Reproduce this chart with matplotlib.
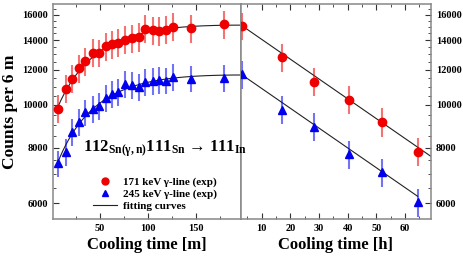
import matplotlib as mpl
mpl.use("Agg")
import matplotlib.pyplot as plt
import numpy as np
from matplotlib.ticker import FixedLocator, MultipleLocator, NullFormatter

plt.rcParams["font.family"] = "Liberation Serif"
plt.rcParams["font.weight"] = "bold"
plt.rcParams["axes.labelweight"] = "bold"
plt.rcParams["mathtext.fontset"] = "custom"
plt.rcParams["mathtext.rm"] = "Liberation Serif:bold"
plt.rcParams["mathtext.it"] = "Liberation Serif:bold"
plt.rcParams["mathtext.bf"] = "Liberation Serif:bold"

# Measured points, cooling time in minutes
t_min = [5.9, 14.3, 20.8, 27.8, 34.7, 42.4, 48.6, 55.9, 62.8, 69.1,
         76.4, 83.6, 90.3, 97.2, 104.9, 111.8, 118.8, 126.4, 144.5, 179.2]
red_min = [9810, 10880, 11470, 12090, 12540, 13120, 13100, 13560, 13720, 13830,
           14040, 14160, 14240, 14870, 14750, 14690, 14780, 15030, 14890, 15210]
red_min_err = [720, 790, 830, 880, 910, 950, 950, 990, 1000, 1000,
               1020, 1030, 1040, 1080, 1070, 1070, 1080, 1090, 1080, 1100]
blue_min = [7390, 7840, 8690, 9150, 9620, 9790, 9950, 10350, 10590, 10700,
            11160, 11080, 10990, 11270, 11310, 11370, 11350, 11550, 11460, 11510]
blue_min_err = [500, 540, 600, 630, 660, 680, 690, 720, 730, 740,
                770, 770, 760, 780, 780, 790, 790, 800, 790, 800]

# Measured points, cooling time in hours
t_h = [3.1, 17.0, 28.2, 40.5, 51.8, 64.4]
red_h = [15070, 12820, 11280, 10280, 9150, 7840]
red_h_err = [1090, 930, 820, 750, 670, 570]
blue_h = [11730, 9760, 8940, 7740, 7050, 6030]
blue_h_err = [850, 710, 650, 560, 510, 440]

# Fit parameters (half-lives of 111Sn and 111In)
T_sn = 35.3          # min
T_in = 67.3 * 60     # min
red_fit = (15800, 0.42)
blue_fit = (12200, 0.44)
red_h0 = 15100
blue_h0 = 11700


def growth(t, c0, b):
    return c0 * (1 - b * np.exp(-np.log(2) / T_sn * t)) * np.exp(-np.log(2) / T_in * t)


def decay(h, c0):
    return c0 * np.exp(-np.log(2) / (T_in / 60) * (h - 3.1))


fig = plt.figure(figsize=(4.63, 2.56), dpi=100)
ax1 = fig.add_axes([0.1145, 0.1445, 0.406, 0.840])
ax2 = fig.add_axes([0.5205, 0.1445, 0.410, 0.840])

red = "#ee0000"
blue = "#0000ee"
ylim = (5530, 16900)


def draw_points(ax, x, y, err, color, marker):
    ax.errorbar(x, y, yerr=err, fmt="none", ecolor=color, elinewidth=1.5, alpha=0.55, zorder=2)
    ax.plot(x, y, marker, color=color, markersize=6, linestyle="none", zorder=3)


# left panel
tt = np.linspace(t_min[0], 197, 300)
ax1.plot(tt, growth(tt, *red_fit), color="#222222", lw=0.8, zorder=1)
ax1.plot(tt, growth(tt, *blue_fit), color="#222222", lw=0.8, zorder=1)
draw_points(ax1, t_min, red_min, red_min_err, red, "o")
draw_points(ax1, t_min, blue_min, blue_min_err, blue, "^")

# right panel
hr = np.linspace(2.8, 69, 200)
hb = np.linspace(2.8, 64.4, 200)
ax2.plot(hr, decay(hr, red_h0), color="#222222", lw=0.8, zorder=1)
ax2.plot(hb, decay(hb, blue_h0), color="#222222", lw=0.8, zorder=1)
draw_points(ax2, t_h, red_h, red_h_err, red, "o")
draw_points(ax2, t_h, blue_h, blue_h_err, blue, "^")

yticks = [6000, 8000, 10000, 12000, 14000, 16000]
for ax in (ax1, ax2):
    ax.set_yscale("log")
    ax.set_ylim(*ylim)
    ax.yaxis.set_major_locator(FixedLocator(yticks))
    ax.yaxis.set_minor_locator(FixedLocator(np.arange(5500, 17000, 500)))
    ax.yaxis.set_major_formatter(plt.FuncFormatter(lambda v, p: f"{v:.0f}"))
    ax.yaxis.set_minor_formatter(NullFormatter())
    for s in ax.spines.values():
        s.set_color("#888888")
        s.set_linewidth(1.1)
    ax.tick_params(which="both", direction="in", colors="#333333", labelcolor="black",
                   labelsize=7.5, top=True)
    ax.tick_params(which="major", length=4, width=0.8)
    ax.tick_params(which="minor", length=2, width=0.6)

ax1.set_xlim(1, 197)
ax1.xaxis.set_major_locator(FixedLocator([50, 100, 150]))
ax1.xaxis.set_minor_locator(MultipleLocator(25))
ax1.tick_params(axis="y", which="both", left=True, right=False)
ax1.set_xlabel("Cooling time [m]", fontsize=12, labelpad=3)
ax1.set_ylabel("Counts per 6 m", fontsize=12.5, labelpad=3)

ax2.set_xlim(2.8, 69)
ax2.xaxis.set_major_locator(FixedLocator([10, 20, 30, 40, 50, 60]))
ax2.xaxis.set_minor_locator(MultipleLocator(5))
ax2.tick_params(axis="y", which="both", left=False, right=True, labelleft=False, labelright=True)
ax2.set_xlabel("Cooling time [h]", fontsize=12, labelpad=3)

ax1.plot([], [], "o", color=red, markersize=5, label="171 keV γ-line (exp)")
ax1.plot([], [], "^", color=blue, markersize=5, label="245 keV γ-line (exp)")
ax1.plot([], [], color="#222222", lw=0.8, label="fitting curves")
ax1.legend(loc="lower left", bbox_to_anchor=(0.17, 0.0), frameon=False, fontsize=8,
           handlelength=2.2, handletextpad=0.5, labelspacing=0.2, borderpad=0.2)

fig.text(0.356, 0.42, r"112$_{\mathrm{Sn(γ,n)}}$111$_{\mathrm{Sn}}$ → 111$_{\mathrm{In}}$",
         ha="center", va="center", fontsize=12)

fig.savefig("out.png", dpi=100)
